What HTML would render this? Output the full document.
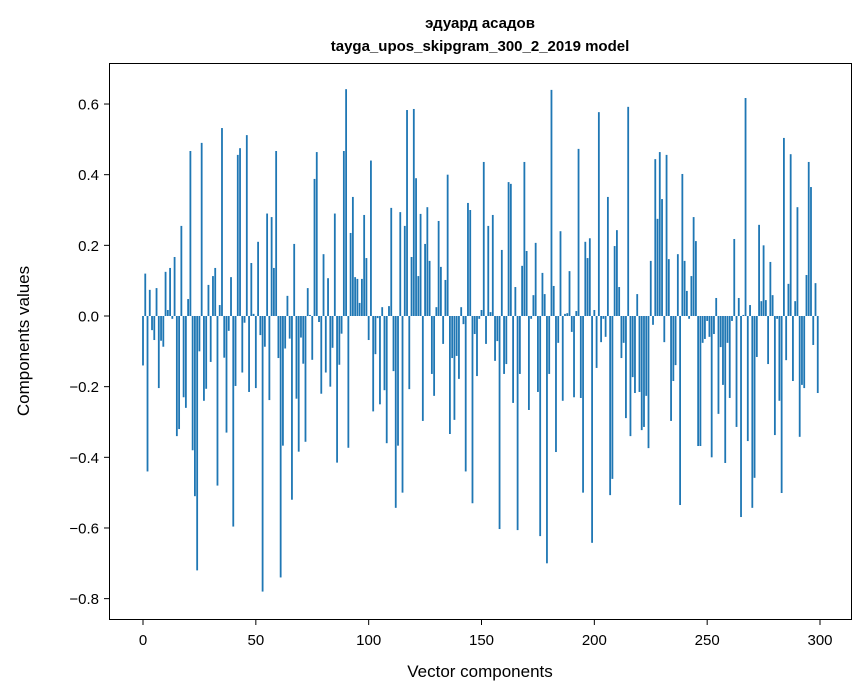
<!DOCTYPE html>
<html><head><meta charset="utf-8"><style>
html,body{margin:0;padding:0;background:#fff;}
svg{display:block;font-family:"Liberation Sans","DejaVu Sans",sans-serif;}
</style></head><body>
<svg id="chart" width="867" height="696">
<rect width="867" height="696" fill="#fff"/>
<text x="480" y="28" text-anchor="middle" font-size="15" font-weight="bold">эдуард асадов</text>
<text x="480" y="51" text-anchor="middle" font-size="15" font-weight="bold">tayga_upos_skipgram_300_2_2019 model</text>
<g id="bars"></g>
<g id="xticks"></g>
<g id="yticks"></g>
<rect x="109.5" y="63.5" width="742" height="556" fill="none" stroke="#000" stroke-width="1"/>
<text x="480" y="677" text-anchor="middle" font-size="17">Vector components</text>
<text transform="translate(29,341) rotate(-90)" text-anchor="middle" font-size="17">Components values</text>
</svg>
<script>
const values = [
-0.14,0.12,-0.44,0.074,-0.04,-0.068,0.079,-0.204,-0.07,-0.087,
0.125,0.017,0.136,-0.008,0.167,-0.34,-0.32,0.255,-0.23,-0.26,
0.048,0.467,-0.38,-0.51,-0.72,-0.10,0.49,-0.24,-0.206,0.088,
-0.13,0.113,0.136,-0.48,0.031,0.532,-0.118,-0.33,-0.042,0.11,
-0.596,-0.198,0.456,0.475,-0.16,-0.019,0.512,-0.215,0.15,0.006,
-0.204,0.21,-0.054,-0.78,-0.087,0.29,-0.238,0.28,0.136,0.467,
-0.119,-0.74,-0.367,-0.092,0.057,-0.064,-0.52,0.204,-0.234,-0.384,
-0.061,-0.135,-0.356,0.079,0.003,-0.124,0.388,0.464,-0.017,-0.22,
0.175,-0.16,0.107,-0.2,-0.09,0.29,-0.415,-0.138,-0.05,0.467,
0.642,-0.373,0.235,0.337,0.11,0.105,0.037,0.105,0.286,0.164,
-0.068,0.44,-0.27,-0.108,-0.006,-0.25,0.025,-0.21,-0.36,0.028,
0.306,-0.156,-0.543,-0.367,0.294,-0.5,0.255,0.583,-0.207,0.167,
0.586,0.39,0.113,0.289,-0.297,0.204,0.308,0.156,-0.164,-0.226,
0.025,0.269,0.139,-0.079,0.102,0.4,-0.334,-0.119,-0.294,-0.113,
-0.178,0.025,-0.023,-0.44,0.32,0.3,-0.53,-0.051,-0.17,-0.008,
0.017,0.436,-0.079,0.255,0.011,0.286,-0.127,-0.071,-0.603,0.187,
-0.164,-0.136,0.379,0.374,-0.246,0.082,-0.606,-0.164,0.142,0.436,
0.184,-0.266,-0.008,0.059,0.207,-0.215,-0.623,0.122,0.062,-0.70,
-0.164,0.64,0.085,-0.385,-0.076,0.24,-0.24,0.006,0.008,0.127,
-0.045,-0.23,0.014,0.473,-0.232,-0.5,0.21,0.164,0.22,-0.642,
0.017,-0.147,0.577,-0.074,-0.008,-0.059,0.337,-0.507,-0.461,0.198,
0.243,0.082,-0.119,-0.076,-0.289,0.592,-0.34,-0.173,-0.218,0.062,
-0.215,-0.323,-0.314,-0.226,-0.374,0.156,-0.025,0.444,0.275,0.464,
0.331,-0.074,0.456,0.161,-0.297,-0.184,-0.139,0.175,-0.535,0.402,
0.156,0.071,-0.008,0.113,0.28,0.212,-0.368,-0.368,-0.076,-0.065,
-0.014,-0.059,-0.40,-0.051,0.051,-0.277,-0.088,-0.195,-0.416,-0.076,
-0.232,-0.014,0.218,-0.314,0.051,-0.569,0.003,0.617,-0.354,0.031,
-0.543,-0.458,-0.116,0.258,0.042,0.2,0.045,-0.136,0.153,0.059,
-0.337,-0.008,-0.24,-0.501,0.504,-0.125,0.091,0.458,-0.184,0.042,
0.308,-0.342,-0.195,-0.204,0.116,0.436,0.365,-0.082,0.093,-0.218
];
const xTickValues = [0,50,100,150,200,250,300];
const yTickValues = [-0.8,-0.6,-0.4,-0.2,0.0,0.2,0.4,0.6];
const yTickLabels = ["\u22120.8","\u22120.6","\u22120.4","\u22120.2","0.0","0.2","0.4","0.6"];

const NS = "http://www.w3.org/2000/svg";
const xScale = v => 143 + v * 2.2567;
const yScale = v => 316 - v * 353.3;
const bars = document.getElementById('bars');
values.forEach((v, i) => {
  const r = document.createElementNS(NS, 'rect');
  const w = 0.8 * 2.2567;
  const y0 = yScale(0), y1 = yScale(v);
  r.setAttribute('x', xScale(i) - w / 2);
  r.setAttribute('y', Math.min(y0, y1));
  r.setAttribute('width', w);
  r.setAttribute('height', Math.abs(y1 - y0));
  r.setAttribute('fill', '#1f77b4');
  
  
  bars.appendChild(r);
});
const xt = document.getElementById('xticks');
xTickValues.forEach(v => {
  const x = xScale(v);
  const l = document.createElementNS(NS, 'line');
  l.setAttribute('x1', x); l.setAttribute('x2', x);
  l.setAttribute('y1', 620); l.setAttribute('y2', 625);
  l.setAttribute('stroke', '#000');
  
  
  xt.appendChild(l);
  const t = document.createElementNS(NS, 'text');
  t.setAttribute('x', x); t.setAttribute('y', 645);
  t.setAttribute('text-anchor', 'middle');
  t.setAttribute('font-size', '15');
  t.textContent = v;
  
  
  xt.appendChild(t);
});
const yt = document.getElementById('yticks');
yTickValues.forEach((v, i) => {
  const y = yScale(v);
  const l = document.createElementNS(NS, 'line');
  l.setAttribute('x1', 104); l.setAttribute('x2', 109);
  l.setAttribute('y1', y); l.setAttribute('y2', y);
  l.setAttribute('stroke', '#000');
  
  
  yt.appendChild(l);
  const t = document.createElementNS(NS, 'text');
  t.setAttribute('x', 99); t.setAttribute('y', y + 5.5);
  t.setAttribute('text-anchor', 'end');
  t.setAttribute('font-size', '15');
  t.textContent = yTickLabels[i];
  
  
  yt.appendChild(t);
});
</script>
</body></html>
